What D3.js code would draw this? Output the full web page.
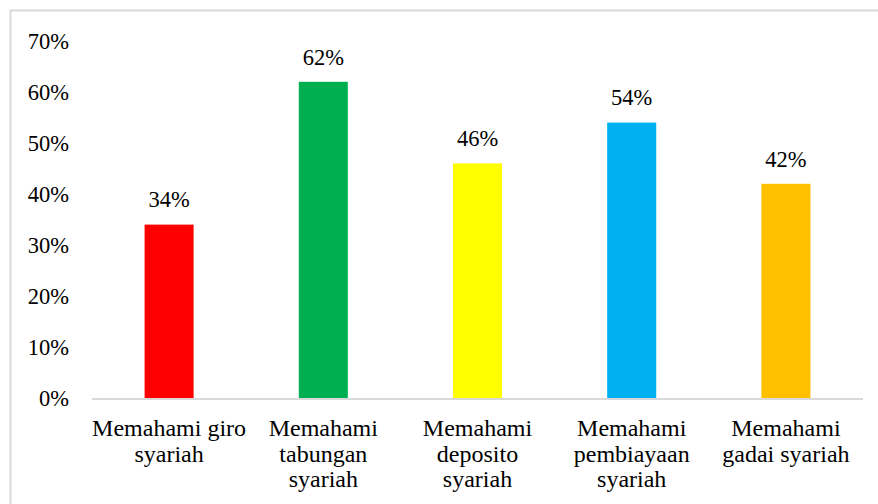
<!DOCTYPE html>
<meta charset="utf-8">
<body style="margin:0">
<svg width="878" height="504" style="font-family: 'Liberation Serif', serif"></svg>
<script src="https://d3js.org/d3.v7.min.js"></script>
<script>

var categories = [
  ["Memahami giro", "syariah"],
  ["Memahami", "tabungan", "syariah"],
  ["Memahami", "deposito", "syariah"],
  ["Memahami", "pembiayaan", "syariah"],
  ["Memahami", "gadai syariah"]
];
var values = [34, 62, 46, 54, 42];
var colors = ["#ff0000", "#00b050", "#ffff00", "#00b0f0", "#ffc000"];
var yTicks = [0, 10, 20, 30, 40, 50, 60, 70];

var svg = d3.select("svg");

// chart frame
svg.append("rect")
    .attr("x", 10.5).attr("y", 10.5)
    .attr("width", 880).attr("height", 500)
    .attr("fill", "none")
    .attr("stroke", "#d9d9d9")
    .attr("stroke-width", 2);

var x = d3.scaleBand()
    .domain(d3.range(values.length))
    .range([92, 863])
    .paddingInner(0.682)
    .paddingOuter(0.341);

var y = d3.scaleLinear()
    .domain([0, 70])
    .range([398, 41]);

// y tick labels
svg.append("g").selectAll("text")
    .data(yTicks)
    .enter().append("text")
      .attr("x", 69)
      .attr("y", function(d) { return y(d); })
      .attr("dy", "0.35em")
      .attr("text-anchor", "end")
      .style("font-family", "Liberation Serif")
      .style("font-size", "22.5px")
      .text(function(d) { return d + "%"; });

// bars
svg.append("g").selectAll("rect")
    .data(values)
    .enter().append("rect")
      .attr("x", function(d, i) { return x(i); })
      .attr("y", function(d) { return y(d); })
      .attr("width", x.bandwidth())
      .attr("height", function(d) { return y(0) - y(d); })
      .attr("fill", function(d, i) { return colors[i]; });

// baseline
svg.append("line")
    .attr("x1", 92).attr("x2", 863)
    .attr("y1", y(0) + 1).attr("y2", y(0) + 1)
    .attr("stroke", "#d9d9d9")
    .attr("stroke-width", 2);

// value labels
svg.append("g").selectAll("text")
    .data(values)
    .enter().append("text")
      .attr("x", function(d, i) { return x(i) + x.bandwidth() / 2; })
      .attr("y", function(d) { return y(d) - 25; })
      .attr("dy", "0.35em")
      .attr("text-anchor", "middle")
      .style("font-family", "Liberation Serif")
      .style("font-size", "22.5px")
      .text(function(d) { return d + "%"; });

// category labels
var cat = svg.append("g").selectAll("text")
    .data(categories)
    .enter().append("text")
      .attr("text-anchor", "middle")
      .style("font-family", "Liberation Serif")
      .style("font-size", "24px")
      .attr("transform", function(d, i) {
        return "translate(" + (x(i) + x.bandwidth() / 2) + ",436)";
      });

cat.selectAll("tspan")
    .data(function(d) { return d; })
    .enter().append("tspan")
      .attr("x", 0)
      .attr("y", function(d, j) { return j * 25.5; })
      .text(function(d) { return d; });

</script>
